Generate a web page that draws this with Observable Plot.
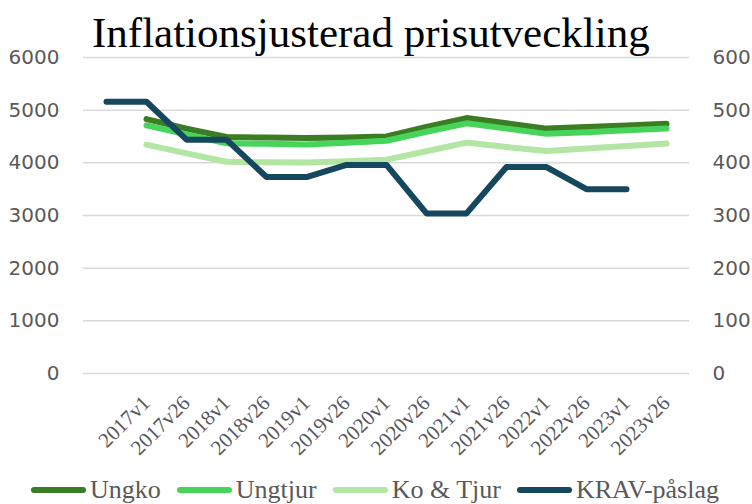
<!DOCTYPE html>
<html>
<head>
<meta charset="utf-8">
<script src="https://cdn.jsdelivr.net/npm/d3@7"></script>
<script src="https://cdn.jsdelivr.net/npm/@observablehq/plot@0.6"></script>
<style>
  html, body { margin: 0; padding: 0; background: #fff; }
  #wrap { position: relative; width: 752px; height: 504px; overflow: hidden; }
  #title { position: absolute; left: 92px; top: 11px; font-family: "Liberation Serif", serif; font-size: 43px; line-height: 1; color: #000; white-space: nowrap; }
  #chart { position: absolute; left: 0; top: 0; }
  #chart g[aria-label="x-axis tick label"] { font-size: 21px; font-family: "Liberation Serif", serif; }
  #chart g[aria-label="y-axis tick label"] { font-size: 20px; font-family: "DejaVu Sans", sans-serif; }
  #legend { position: absolute; left: 31px; top: 476px; display: flex; align-items: center; font-family: "Liberation Serif", serif; font-size: 26px; color: #595959; line-height: 28px; white-space: nowrap; }
  .item { display: flex; align-items: center; margin-right: 16px; }
  .sw { display: inline-block; width: 55px; height: 6px; border-radius: 3px; margin-right: 4px; }
</style>
</head>
<body>
<div id="wrap">
  <div id="chart"></div>
  <div id="title">Inflationsjusterad prisutveckling</div>
  <div id="legend"></div>
</div>
<script>
// Categories (first slot is unlabeled)
const periods = ["", "2017v1", "2017v26", "2018v1", "2018v26", "2019v1", "2019v26", "2020v1", "2020v26", "2021v1", "2021v26", "2022v1", "2022v26", "2023v1", "2023v26"];

// Series (left axis)
const ungko   = [null, 4830, 4650, 4490, 4480, 4470, 4480, 4500, 4680, 4850, 4750, 4650, 4680, 4710, 4740];
const ungtjur = [null, 4710, 4540, 4370, 4360, 4350, 4380, 4420, 4590, 4750, 4650, 4550, 4580, 4620, 4650];
const koTjur  = [null, 4345, 4180, 4020, 4010, 4005, 4030, 4060, 4220, 4385, 4300, 4225, 4270, 4320, 4365];
// Series (right axis)
const krav    = [516, 516, 444, 444, 373, 373, 396, 396, 304, 304, 392, 392, 350, 350, null];

// Axis ticks
const leftTicks  = [0, 1000, 2000, 3000, 4000, 5000, 6000];
const rightTicks = [0, 100, 200, 300, 400, 500, 600];

const seriesNames  = ["Ungko", "Ungtjur", "Ko & Tjur", "KRAV-påslag"];
const seriesColors = ["#3b7d23", "#47d45a", "#b3e5a3", "#15475e"];

const ratio = leftTicks[leftTicks.length - 1] / rightTicks[rightTicks.length - 1];

const rows = periods.map((p, i) => ({
  period: p,
  ungko: ungko[i],
  ungtjur: ungtjur[i],
  koTjur: koTjur[i],
  krav: krav[i] == null ? null : krav[i] * ratio
}));

const lineOpts = {strokeWidth: 6, strokeLinecap: "round", strokeLinejoin: "round"};

const chart = Plot.plot({
  width: 752,
  height: 470,
  marginTop: 57,
  marginBottom: 97,
  marginLeft: 83,
  marginRight: 63,
  style: {color: "#595959", background: "transparent"},
  x: {type: "point", domain: periods, padding: 0.5, label: null},
  y: {domain: [leftTicks[0], leftTicks[leftTicks.length - 1]], label: null},
  marks: [
    Plot.gridY(leftTicks, {stroke: "#d9d9d9", strokeOpacity: 1, strokeWidth: 1.5}),
    Plot.axisY(leftTicks, {anchor: "left", tickSize: 0, tickPadding: 24, fontSize: 20, fontFamily: "DejaVu Sans", tickFormat: d => String(d), label: null}),
    Plot.axisY(rightTicks.map(v => v * ratio), {anchor: "right", tickSize: 0, tickPadding: 23, fontSize: 20, fontFamily: "DejaVu Sans", tickFormat: d => String(d / ratio), label: null}),
    Plot.axisX({tickSize: 0, tickPadding: 26, tickRotate: -45, fontSize: 21, fontFamily: "Liberation Serif", label: null}),
    Plot.lineY(rows, {x: "period", y: "ungko", stroke: seriesColors[0], ...lineOpts}),
    Plot.lineY(rows, {x: "period", y: "ungtjur", stroke: seriesColors[1], ...lineOpts}),
    Plot.lineY(rows, {x: "period", y: "koTjur", stroke: seriesColors[2], ...lineOpts}),
    Plot.lineY(rows, {x: "period", y: "krav", stroke: seriesColors[3], ...lineOpts})
  ]
});
document.getElementById("chart").appendChild(chart);

const legend = document.getElementById("legend");
seriesNames.forEach((name, i) => {
  const item = document.createElement("span");
  item.className = "item";
  const sw = document.createElement("span");
  sw.className = "sw";
  sw.style.background = seriesColors[i];
  item.appendChild(sw);
  item.appendChild(document.createTextNode(name));
  legend.appendChild(item);
});
</script>
</body>
</html>
